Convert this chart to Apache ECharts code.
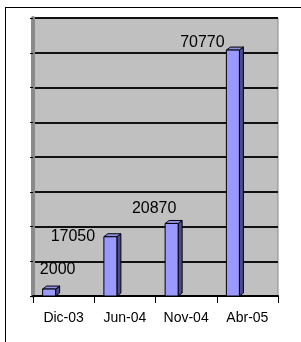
<!DOCTYPE html>
<html>
<head>
<meta charset="utf-8">
<script src="https://cdn.jsdelivr.net/npm/echarts@6/dist/echarts.min.js"></script>
<style>
  html, body { margin: 0; padding: 0; background: #fff; }
  #wrap { position: relative; width: 301px; height: 342px; overflow: hidden; }
  #frame { position: absolute; left: 5px; top: 7px; width: 400px; height: 400px;
           border-left: 1px solid #000; border-top: 1px solid #000; }
  #chart { position: absolute; left: 0; top: 0; width: 301px; height: 342px; }
</style>
</head>
<body>
<div id="wrap">
  <div id="frame"></div>
  <div id="chart"></div>
</div>
<script>
// data
const categories = ['Dic-03', 'Jun-04', 'Nov-04', 'Abr-05']
const values = [2000, 17050, 20870, 70770]
const labelShift = [[-6, -19], [-52, 0], [-32, -15], [-45, -7]]

const chart = echarts.init(document.getElementById('chart'))

const option = {
  animation: false,
  grid: {
    left: 33,
    right: 23,
    top: 18,
    bottom: 46,
    show: true,
    backgroundColor: '#c0c0c0',
    borderColor: '#8a8a8a',
    borderWidth: 1
  },
  xAxis: {
    type: 'category',
    data: categories,
    axisLine: { show: true, lineStyle: { color: '#000', width: 2 } },
    axisTick: { show: true, length: 7, alignWithLabel: false, lineStyle: { color: '#000', width: 1 } },
    axisLabel: {
      color: '#000',
      fontFamily: 'Liberation Sans, Arial, sans-serif',
      fontSize: 14,
      margin: 15
    },
    splitLine: { show: false }
  },
  yAxis: {
    type: 'value',
    min: 0,
    max: 80000,
    interval: 10000,
    axisLabel: { show: false },
    axisLine: { show: true, lineStyle: { color: '#8a8a8a', width: 4 } },
    axisTick: { show: true, length: 3, lineStyle: { color: '#000' } },
    splitLine: { show: true, lineStyle: { color: '#111', width: 2 } }
  },
  series: [{
    type: 'custom',
    data: values.map((v, i) => [i, v]),
    renderItem: (params, api) => {
      const i = api.value(0)
      const top = api.coord([i, api.value(1)])
      const base = api.coord([i, 0])
      const x0 = top[0] - 21
      const w = 13
      const d = 4
      const sh = labelShift[params.dataIndex]
      return {
        type: 'group',
        children: [
          {
            type: 'polygon',
            shape: { points: [[x0 + w, top[1]], [x0 + w + d, top[1] - 3], [x0 + w + d, base[1] - 3], [x0 + w, base[1]]] },
            style: { fill: '#4b4b8f', stroke: '#000', lineWidth: 1 }
          },
          {
            type: 'polygon',
            shape: { points: [[x0, top[1]], [x0 + d, top[1] - 3], [x0 + w + d, top[1] - 3], [x0 + w, top[1]]] },
            style: { fill: '#8f8fe8', stroke: '#000', lineWidth: 1 }
          },
          {
            type: 'rect',
            shape: { x: x0, y: top[1], width: w, height: base[1] - top[1] },
            style: { fill: '#9999ff', stroke: '#000', lineWidth: 1 }
          },
          {
            type: 'text',
            x: top[0] + sh[0],
            y: top[1] + sh[1],
            style: {
              text: String(values[params.dataIndex]),
              fill: '#000',
              font: '16px Liberation Sans, Arial, sans-serif',
              align: 'center',
              verticalAlign: 'middle'
            }
          }
        ]
      }
    }
  }]
}

chart.setOption(option)
</script>
</body>
</html>
